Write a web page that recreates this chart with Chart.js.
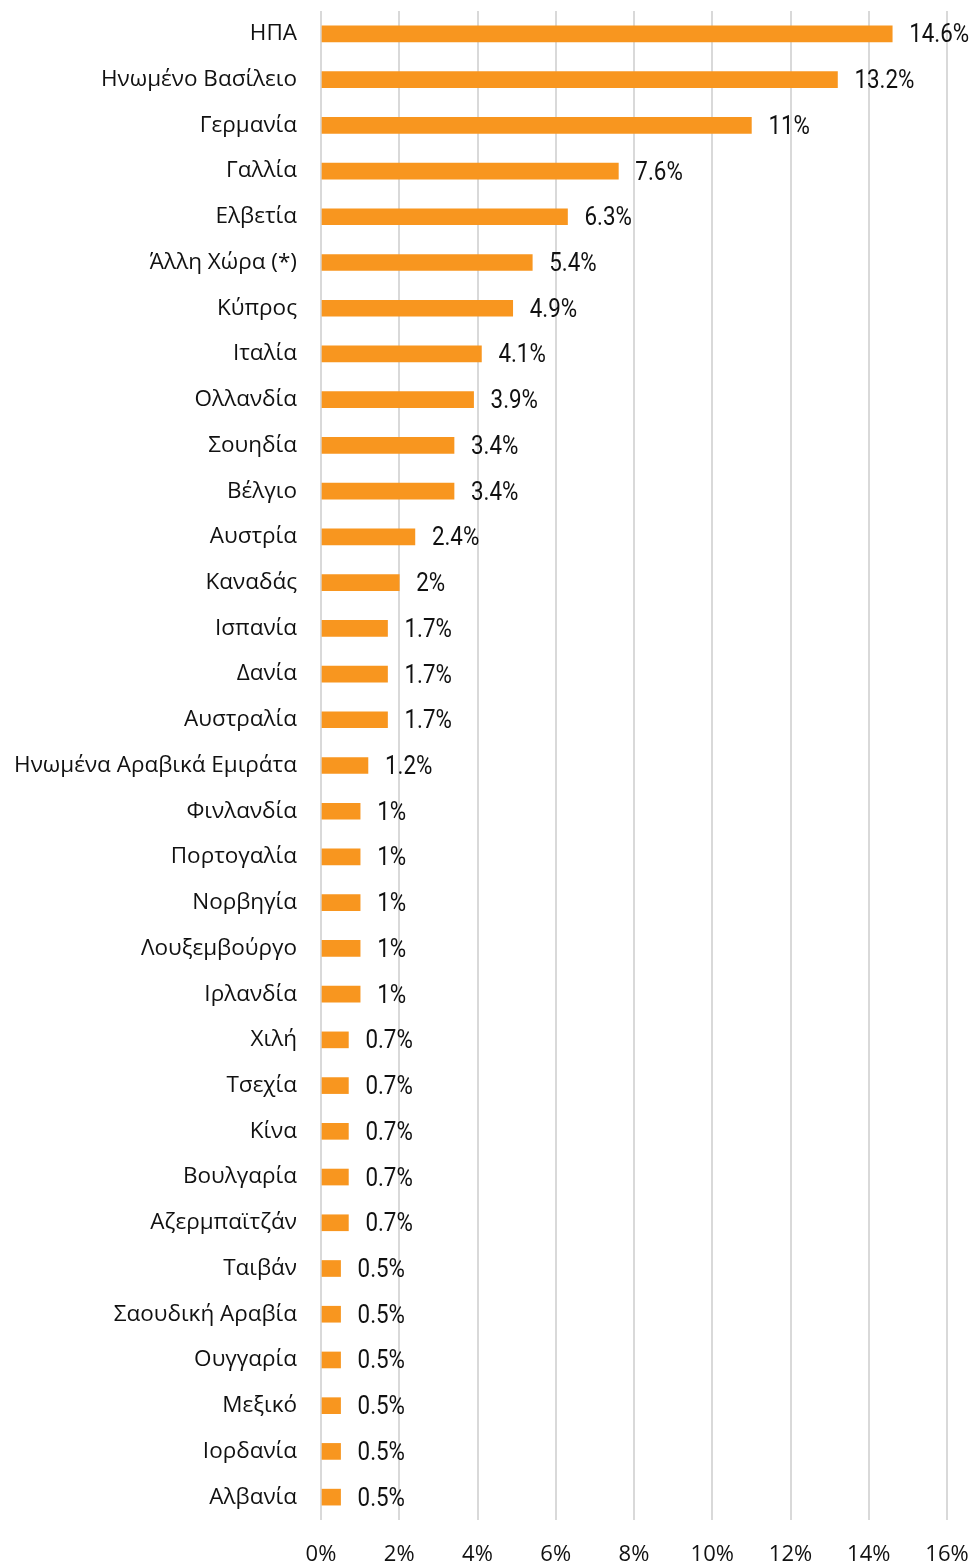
<!DOCTYPE html>
<html>
<head>
<meta charset="utf-8">
<script src="https://cdn.jsdelivr.net/npm/chart.js@4"></script>
<style>
html,body{margin:0;padding:0;background:#fff;}
#wrap{width:975px;height:1564px;position:relative;}
</style>
</head>
<body>
<div id="wrap"><canvas id="c" width="975" height="1564"></canvas></div>
<script>
const categories = ["ΗΠΑ","Ηνωμένο Βασίλειο","Γερμανία","Γαλλία","Ελβετία","Άλλη Χώρα (*)","Κύπρος","Ιταλία","Ολλανδία","Σουηδία","Βέλγιο","Αυστρία","Καναδάς","Ισπανία","Δανία","Αυστραλία","Ηνωμένα Αραβικά Εμιράτα","Φινλανδία","Πορτογαλία","Νορβηγία","Λουξεμβούργο","Ιρλανδία","Χιλή","Τσεχία","Κίνα","Βουλγαρία","Αζερμπαϊτζάν","Ταιβάν","Σαουδική Αραβία","Ουγγαρία","Μεξικό","Ιορδανία","Αλβανία"];
const shares = [14.6,13.2,11,7.6,6.3,5.4,4.9,4.1,3.9,3.4,3.4,2.4,2,1.7,1.7,1.7,1.2,1,1,1,1,1,0.7,0.7,0.7,0.7,0.7,0.5,0.5,0.5,0.5,0.5,0.5];
const xTicks = [0,2,4,6,8,10,12,14,16];

const valueLabels = {
  id: 'valueLabels',
  afterDatasetsDraw(chart) {
    const ctx = chart.ctx;
    const meta = chart.getDatasetMeta(0);
    const sx = 0.86;
    meta.data.forEach((bar, i) => {
      ctx.save();
      ctx.font = '26px Roboto, "DejaVu Sans", sans-serif';
      ctx.fillStyle = '#111';
      ctx.textAlign = 'left';
      ctx.textBaseline = 'middle';
      ctx.translate(bar.x + 17, bar.y + 2);
      ctx.scale(sx, 1);
      ctx.fillText(shares[i] + '%', 0, 0);
      ctx.restore();
    });
  }
};

new Chart(document.getElementById('c'), {
  type: 'bar',
  data: {
    labels: categories,
    datasets: [{
      data: shares,
      backgroundColor: '#F8961F',
      borderWidth: 0,
      barThickness: 16
    }]
  },
  options: {
    indexAxis: 'y',
    responsive: false,
    animation: false,
    layout: { padding: { top: 11, right: 28, left: 0, bottom: 0 } },
    plugins: { legend: { display: false }, tooltip: { enabled: false } },
    scales: {
      x: {
        min: 0, max: 16,
        afterBuildTicks(axis) { axis.ticks = xTicks.map(v => ({ value: v })); },
        afterFit(axis) { axis.height = 44; axis.paddingLeft = 0; axis.paddingRight = 0; },
        grid: { color: '#d9d9d9', lineWidth: 2, drawTicks: false },
        border: { display: false },
        ticks: {
          padding: 22,
          color: '#111',
          font: { family: '"Open Sans", sans-serif', size: 22 },
          callback: v => v + '%'
        }
      },
      y: {
        afterFit(axis) { axis.width = 321; axis.paddingTop = 0; axis.paddingBottom = 0; },
        grid: { display: false, drawTicks: false },
        border: { display: false },
        ticks: {
          padding: 24,
          color: '#111',
          font: { family: '"Open Sans", sans-serif', size: 22.5 },
          autoSkip: false
        }
      }
    }
  },
  plugins: [valueLabels]
});
</script>
</body>
</html>
